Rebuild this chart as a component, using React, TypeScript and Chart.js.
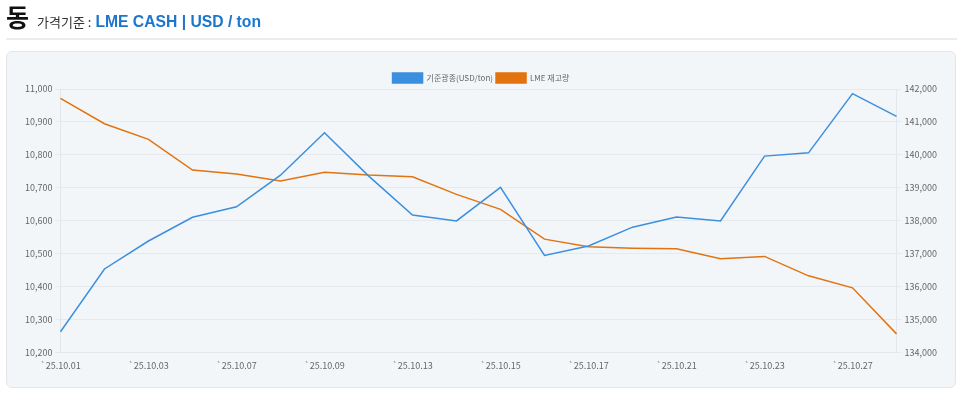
import React, { useEffect, useRef } from "react";
import { Chart, registerables } from "chart.js";

Chart.register(...registerables);

const categories = [
  "`25.10.01", "`25.10.02", "`25.10.03", "`25.10.06", "`25.10.07",
  "`25.10.08", "`25.10.09", "`25.10.10", "`25.10.13", "`25.10.14",
  "`25.10.15", "`25.10.16", "`25.10.17", "`25.10.20", "`25.10.21",
  "`25.10.22", "`25.10.23", "`25.10.24", "`25.10.27", "`25.10.28",
];

const priceSeries = [
  10262, 10453, 10538, 10610, 10642, 10738, 10867, 10736, 10617, 10599,
  10701, 10494, 10523, 10580, 10611, 10599, 10796, 10806, 10986, 10917,
];

const stockSeries = [
  141717, 140945, 140470, 139536, 139414, 139202, 139466, 139384, 139332, 138797,
  138341, 137437, 137203, 137163, 137142, 136838, 136911, 136321, 135956, 134557,
];

const leftTicks = { min: 10200, max: 11000, step: 100 };
const rightTicks = { min: 134000, max: 142000, step: 1000 };

const priceLabel = "기준광종(USD/ton)";
const stockLabel = "LME 재고량";

const BLUE = "#3b8fdf";
const ORANGE = "#e2730f";
const FONT = "'Noto Sans CJK KR', 'Noto Sans', sans-serif";

const legendTighten = {
  id: "legendTighten",
  beforeInit(chart: any) {
    const legend = chart.legend;
    if (!legend) return;
    const origFit = legend.fit;
    legend.fit = function () {
      origFit.call(legend);
      legend.height -= 4;
    };
  },
};

function LineChart() {
  const ref = useRef<HTMLCanvasElement | null>(null);
  useEffect(() => {
    if (!ref.current) return;
    const fmt = (v: any) => Number(v).toLocaleString("en-US");
    const chart = new Chart(ref.current, {
      type: "line",
      data: {
        labels: categories,
        datasets: [
          {
            label: priceLabel,
            data: priceSeries,
            borderColor: BLUE,
            backgroundColor: BLUE,
            borderWidth: 1.5,
            pointRadius: 0,
            tension: 0,
            yAxisID: "y",
          },
          {
            label: stockLabel,
            data: stockSeries,
            borderColor: ORANGE,
            backgroundColor: ORANGE,
            borderWidth: 1.5,
            pointRadius: 0,
            tension: 0,
            yAxisID: "y1",
          },
        ],
      },
      plugins: [legendTighten],
      options: {
        animation: false,
        responsive: true,
        maintainAspectRatio: false,
        layout: { padding: { left: 15, right: 15, top: 18, bottom: 8 } },
        plugins: {
          legend: {
            display: true,
            position: "top",
            labels: {
              boxWidth: 30,
              boxHeight: 10,
              color: "#666",
              font: { family: FONT, size: 8 },
              padding: 3,
            },
          },
          tooltip: { enabled: false },
        },
        scales: {
          x: {
            grid: { display: false, drawTicks: false },
            border: { display: true, color: "#e3e6ea" },
            ticks: {
              autoSkip: false,
              maxRotation: 0,
              color: "#666",
              padding: 8,
              font: { family: FONT, size: 9 },
              callback: (_v: any, i: number) => (i % 2 === 0 ? categories[i] : ""),
            },
          },
          y: {
            position: "left",
            min: leftTicks.min,
            max: leftTicks.max,
            grid: { color: "#e6e9ed", tickLength: 5 },
            border: { display: true, color: "#e3e6ea" },
            ticks: {
              stepSize: leftTicks.step,
              color: "#666",
              padding: 3,
              font: { family: FONT, size: 9 },
              callback: fmt,
            },
          },
          y1: {
            position: "right",
            min: rightTicks.min,
            max: rightTicks.max,
            grid: { drawOnChartArea: false, color: "#e6e9ed", tickLength: 5 },
            border: { display: true, color: "#e3e6ea" },
            ticks: {
              stepSize: rightTicks.step,
              color: "#666",
              padding: 3,
              font: { family: FONT, size: 9 },
              callback: fmt,
            },
          },
        },
      },
    });
    return () => chart.destroy();
  }, []);
  return <canvas ref={ref} />;
}

export default function App() {
  return (
    <div style={{ position: "fixed", left: 0, top: 0, width: 960, height: 394, background: "#fff", fontFamily: FONT }}>
      <div style={{ position: "absolute", left: 6, top: 0, height: 34, display: "flex", alignItems: "baseline", whiteSpace: "nowrap" }}>
        <span style={{ fontSize: 25, fontWeight: 700, color: "#111", lineHeight: "32px" }}>동</span>
        <span style={{ fontSize: 13, color: "#333", marginLeft: 8 }}>가격기준 :</span>
        <span style={{ fontSize: 15.7, fontWeight: 700, color: "#1b76cc", marginLeft: 4, fontFamily: "'Liberation Sans', Arial, sans-serif" }}>LME CASH | USD / ton</span>
      </div>
      <div style={{ position: "absolute", left: 6, top: 38, width: 951, height: 2, background: "#ececec" }} />
      <div style={{ position: "absolute", left: 6, top: 51, width: 948, height: 335, border: "1px solid #e3e7ec", borderRadius: 6, background: "#f3f6f9" }}>
        <div style={{ position: "relative", width: 948, height: 335 }}>
          <LineChart />
        </div>
      </div>
    </div>
  );
}
